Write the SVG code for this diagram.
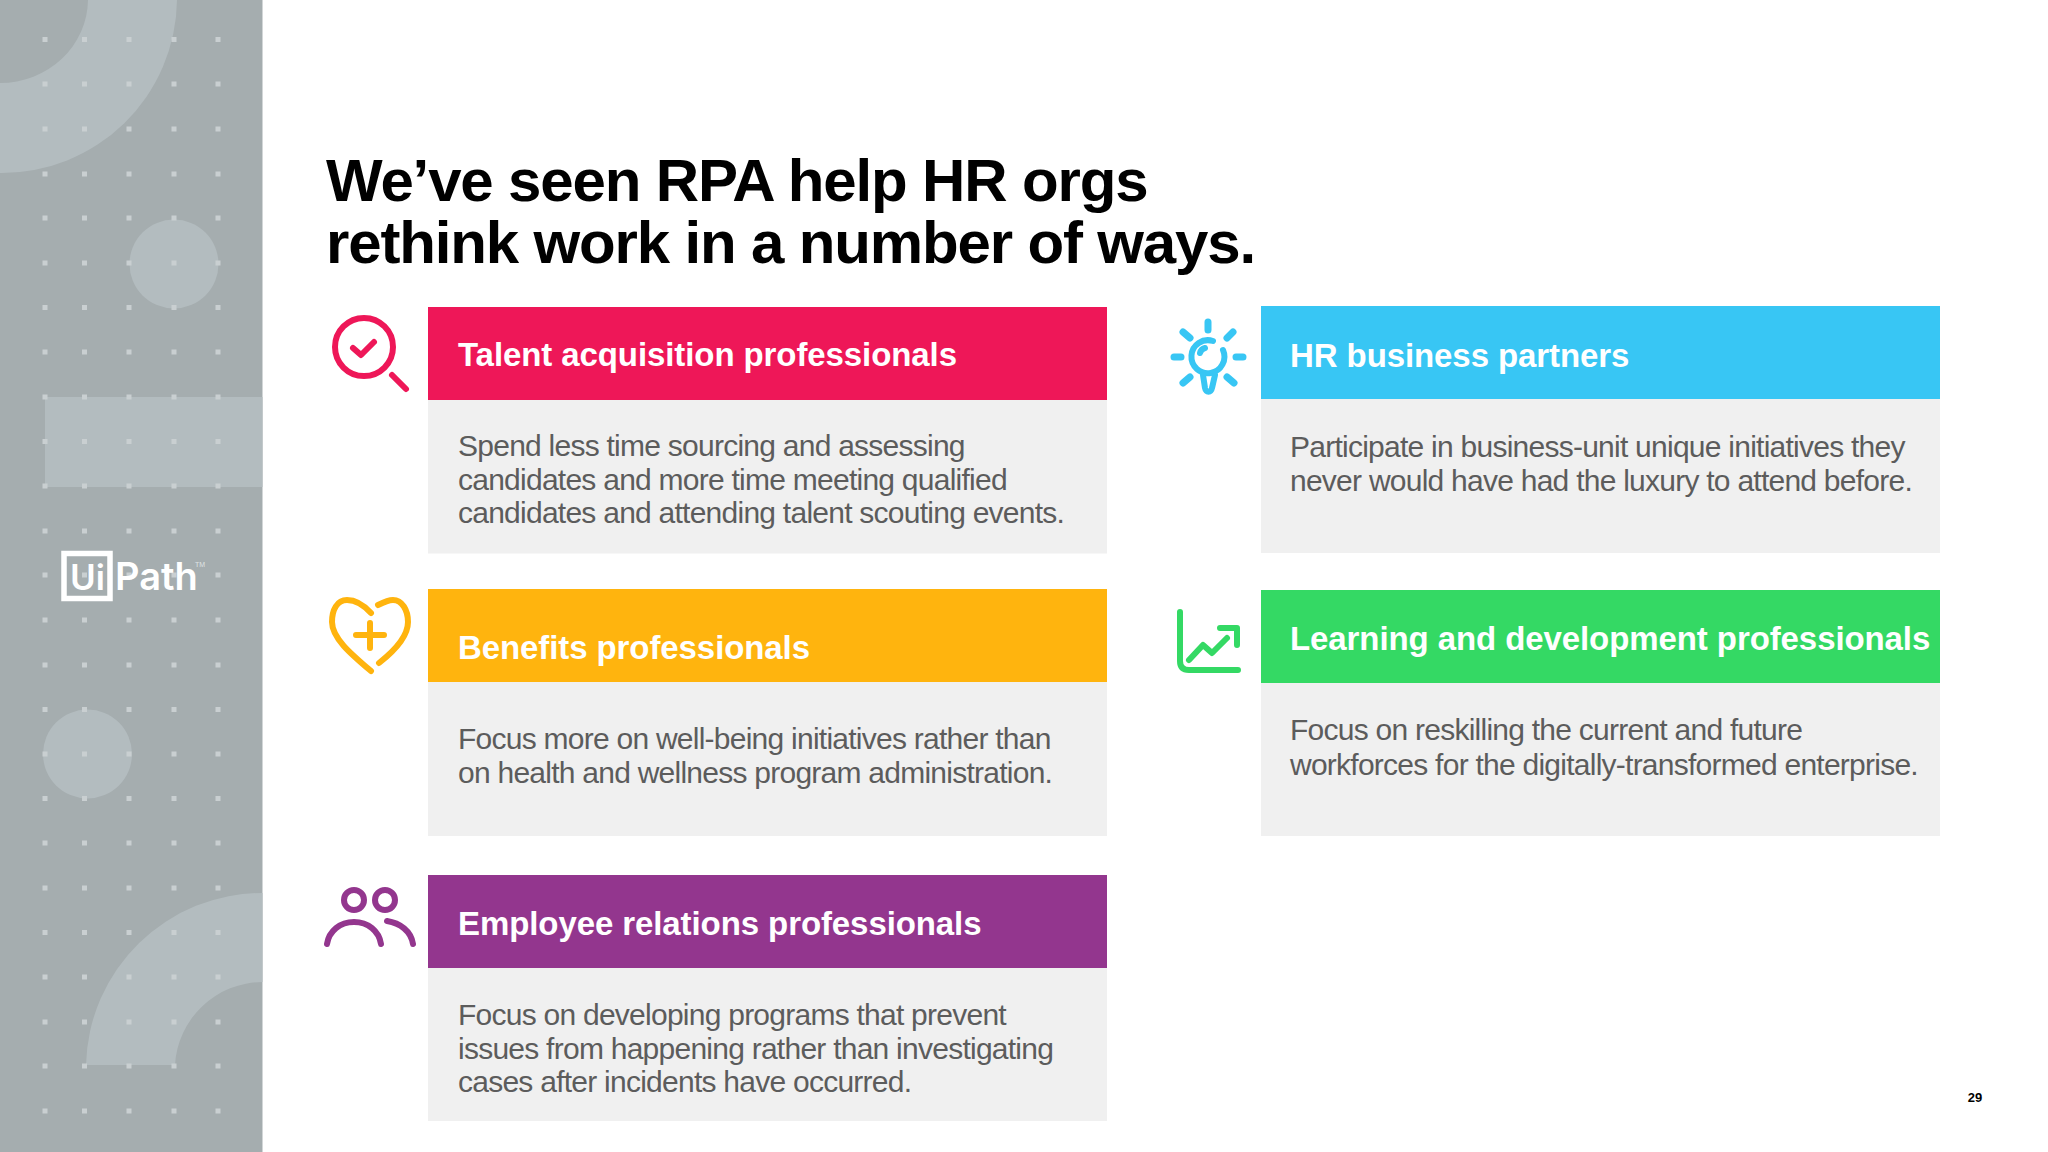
<svg xmlns="http://www.w3.org/2000/svg" width="2048" height="1152" viewBox="0 0 2048 1152">
<style>
.shape{fill:#b3bcbf}
.dot{fill:#c9cfd1}
.title{font:700 60px "Liberation Sans",Arial,sans-serif;fill:#000;letter-spacing:-1.15px}
.head{font:700 33px "Liberation Sans",Arial,sans-serif;fill:#fff;letter-spacing:-.09px}
.body{font:400 30px "Liberation Sans",Arial,sans-serif;fill:#5c5c5c;letter-spacing:-.75px}
.panel{fill:#f0f0f0}
.ico{fill:none;stroke-width:6;stroke-linecap:round;stroke-linejoin:round}
</style>
<defs>
<g id="dotrow"><rect class="dot" x="42.500" y="-2.500" width="5" height="5"/><rect class="dot" x="82" y="-2.500" width="5" height="5"/><rect class="dot" x="126.500" y="-2.500" width="5" height="5"/><rect class="dot" x="171.500" y="-2.500" width="5" height="5"/><rect class="dot" x="215.500" y="-2.500" width="5" height="5"/></g>
</defs>
<rect width="2048" height="1152" fill="#fff"/>
<g id="sidebar">
<rect width="262.500" height="1152" fill="#a5adaf"/>
<path class="shape" d="M0 0H177A175 175 0 0 1 0 173V83A88 84 0 0 0 88 0Z"/>
<circle class="shape" cx="174" cy="264" r="44.500"/>
<rect class="shape" x="45" y="397" width="217.500" height="90"/>
<circle class="shape" cx="87.500" cy="754" r="44.500"/>
<path class="shape" d="M86 1065A176 176 0 0 1 262.500 893V982A88 88 0 0 0 175 1065Z"/>
<use href="#dotrow" y="39.500"/><use href="#dotrow" y="84"/><use href="#dotrow" y="129"/><use href="#dotrow" y="174"/><use href="#dotrow" y="218"/><use href="#dotrow" y="263"/><use href="#dotrow" y="307.500"/><use href="#dotrow" y="352"/><use href="#dotrow" y="397"/><use href="#dotrow" y="441.500"/><use href="#dotrow" y="486"/><use href="#dotrow" y="531"/><use href="#dotrow" y="575"/><use href="#dotrow" y="620"/><use href="#dotrow" y="665"/><use href="#dotrow" y="709.500"/><use href="#dotrow" y="754"/><use href="#dotrow" y="798.500"/><use href="#dotrow" y="843"/><use href="#dotrow" y="888"/><use href="#dotrow" y="932.500"/><use href="#dotrow" y="977"/><use href="#dotrow" y="1022"/><use href="#dotrow" y="1066"/><use href="#dotrow" y="1111"/>
</g>
<g id="logo">
<rect x="64" y="553.500" width="46" height="45" fill="none" stroke="#fff" stroke-width="5.500"/>
<text x="70" y="590" font-family="Inter,'Liberation Sans',sans-serif" font-size="35" font-weight="600" fill="#fff">Ui</text>
<text x="115" y="590" font-family="Inter,'Liberation Sans',sans-serif" font-size="38" font-weight="600" fill="#fff">Path</text>
<text x="195" y="567" font-family="'Liberation Sans',sans-serif" font-size="7" fill="#dfe3e4">TM</text>
</g>
<g id="title">
<text class="title" x="326" y="201">We’ve seen RPA help HR orgs</text>
<text class="title" x="326" y="263">rethink work in a number of ways.</text>
</g>
<g id="node-talent">
<rect class="panel" x="428" y="400" width="679" height="153.500"/>
<rect x="428" y="307" width="679" height="93" fill="#ee1758"/>
<text class="head" x="458" y="366">Talent acquisition professionals</text>
<text class="body"><tspan x="458" y="456">Spend less time sourcing and assessing</tspan><tspan x="458" y="490">candidates and more time meeting qualified</tspan><tspan x="458" y="523">candidates and attending talent scouting events.</tspan></text>
<g class="ico" stroke="#ee1758"><circle cx="364" cy="347" r="29"/><path d="M353 348L361 355L374 342M392 375L406 389"/></g>
</g>
<g id="node-benefits">
<rect class="panel" x="428" y="682" width="679" height="154"/>
<rect x="428" y="589" width="679" height="93" fill="#ffb40e"/>
<text class="head" x="458" y="659">Benefits professionals</text>
<text class="body"><tspan x="458" y="749">Focus more on well-being initiatives rather than</tspan><tspan x="458" y="783">on health and wellness program administration.</tspan></text>
<g class="ico" stroke="#ffb40e"><path d="M371 613C361 602 352 600 347 600C337 600 332 610 332 622C332 638 351 654 371 671M378 605C384 602 388 600 393 600C402 600 408 610 408 622C408 637 393 652 379 663"/><path d="M370 623V648M356 635H384"/></g>
</g>
<g id="node-employee">
<rect class="panel" x="428" y="968" width="679" height="153"/>
<rect x="428" y="875" width="679" height="93" fill="#93368e"/>
<text class="head" x="458" y="935">Employee relations professionals</text>
<text class="body"><tspan x="458" y="1025">Focus on developing programs that prevent</tspan><tspan x="458" y="1059">issues from happening rather than investigating</tspan><tspan x="458" y="1092">cases after incidents have occurred.</tspan></text>
<g class="ico" stroke="#93368e"><circle cx="354" cy="900" r="10"/><circle cx="385" cy="900" r="10"/><path d="M327 944C329 931 340 922 354 922C368 922 379 931 381 944M387 921C400 923 411 931 413 944"/></g>
</g>
<g id="node-hr">
<rect class="panel" x="1261" y="399" width="679" height="154"/>
<rect x="1261" y="306" width="679" height="93" fill="#38c6f4"/>
<text class="head" x="1290" y="367">HR business partners</text>
<text class="body"><tspan x="1290" y="457">Participate in business-unit unique initiatives they</tspan><tspan x="1290" y="491">never would have had the luxury to attend before.</tspan></text>
<g class="ico" stroke="#38c6f4"><path d="M1223 350A16.500 16.500 0 1 1 1213 341"/><path d="M1200 353A7 7 0 0 1 1205 348M1203 375L1205 388C1206 393 1211 393 1212 388L1215 375"/><path stroke-width="7" d="M1208 322V330M1183 332L1190 338M1233 332L1227 338M1174 357H1181M1236 357H1243M1183 383L1190 377M1234 383L1227 377"/></g>
</g>
<g id="node-ld">
<rect class="panel" x="1261" y="683" width="679" height="153"/>
<rect x="1261" y="590" width="679" height="93" fill="#34d964"/>
<text class="head" x="1290" y="650">Learning and development professionals</text>
<text class="body"><tspan x="1290" y="740">Focus on reskilling the current and future</tspan><tspan x="1290" y="775">workforces for the digitally-transformed enterprise.</tspan></text>
<g class="ico" stroke="#34d964"><path d="M1180 612V661Q1180 670 1189 670H1238M1189 660L1203 645L1212 653L1227 638M1220 628H1237V645"/></g>
</g>
<text id="page" x="1975" y="1102" text-anchor="middle" font-family="'Liberation Sans',sans-serif" font-size="13" font-weight="700" fill="#000">29</text>
</svg>
